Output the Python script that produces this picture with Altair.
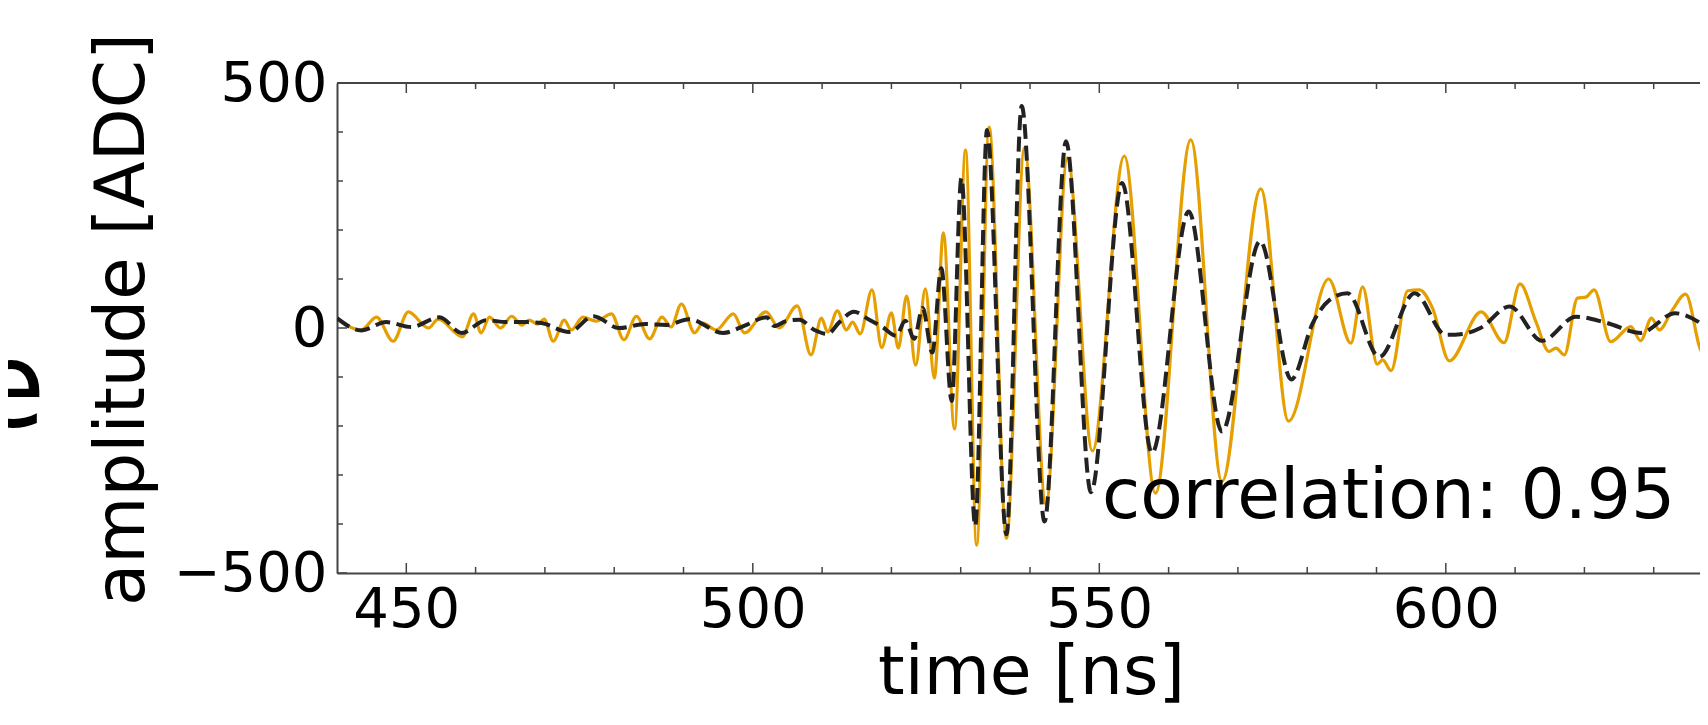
import altair as alt
import pandas as pd

# ---- data ----
meas_t = [440.0, 443.5, 445.7, 448.1, 450.3, 453.2, 454.6, 458.1, 459.7, 460.8,
          462.0, 463.6, 465.2, 466.7, 467.7, 469.0, 469.9, 471.2, 472.8, 473.8,
          475.5, 477.4, 479.6, 481.4, 483.2, 485.1, 486.9, 488.2, 489.7, 491.6,
          492.8, 494.7, 497.2, 498.8, 501.9, 503.8, 506.4, 508.4, 509.9, 510.8,
          512.2, 513.5, 514.4, 515.5, 517.2, 518.6, 520.0, 521.0, 522.2, 523.5,
          524.9, 526.2, 527.5, 529.1, 530.7, 532.3, 534.1, 536.6, 539.2, 542.3,
          545.4, 549.0, 553.6, 558.1, 563.2, 567.7, 573.3, 577.3, 583.1, 586.3,
          588.0, 590.1, 590.9, 592.1, 594.5, 596.2, 598.1, 600.5, 605.1, 608.4,
          610.7, 613.0, 614.9, 615.9, 617.1, 619.0, 620.2, 621.4, 623.8, 626.7,
          628.1, 629.7, 630.8, 632.7, 634.6, 637.1, 637.9]
meas_v = [20, -4, 22, -27, 33, 0, 18, -18, 29, -10,
          22, 0, 24, 6, 16, 8, 18, -27, 16, -4,
          22, 14, 29, -24, 24, -22, 22, 2, 49, -10,
          10, -4, 29, -10, 33, 0, 45, -55, 20, -8,
          35, -4, 12, -12, 78, -40, 31, -41, 65, -76,
          80, -102, 194, -206, 363, -443, 410, -429, 367, -360,
          347, -251, 351, -337, 384, -313, 284, -190, 100, -31,
          84, -74, -65, -87, 76, 78, 40, -67, 33, -30,
          90, 13, -48, -41, -55, 61, 63, 78, -28, 3,
          -26, 20, -4, 37, 69, -51, -40]

sim_t = [440.0, 443.5, 447.1, 450.7, 454.8, 458.0, 461.5, 464.5, 467.5, 469.5,
         473.5, 477.0, 480.7, 484.5, 487.5, 490.8, 495.7, 499.0, 502.0, 503.1,
         504.8, 506.7, 508.9, 510.8, 512.5, 514.6, 516.8, 518.7, 520.7, 522.0,
         523.3, 524.5, 525.9, 527.2, 528.7, 530.1, 532.1, 533.8, 536.6, 538.8,
         542.1, 545.2, 548.8, 553.3, 557.6, 562.9, 567.7, 573.2, 577.7, 580.8,
         583.2, 585.8, 590.4, 595.5, 600.0, 602.5, 605.0, 609.2, 613.9, 618.8,
         623.1, 628.1, 633.1, 637.9]
sim_v = [20, -5, 12, 2, 22, -10, 16, 12, 12, 10,
         -8, 24, 0, 8, 6, 18, -10, 6, 22, 4,
         14, 17, -4, -12, 12, 33, 17, 2, -16, 15,
         -22, 41, -50, 122, -149, 306, -404, 404, -421, 453,
         -395, 381, -335, 296, -255, 238, -211, 177, -105, 10,
         57, 71, -59, 71, -14, -12, 0, 44, -26, 23,
         11, -10, 30, -1]

x_major = [450, 500, 550, 600]
x_minor = [460, 470, 480, 490, 510, 520, 530, 540, 560, 570, 580, 590, 610, 620, 630]
y_major = [-500, 0, 500]
y_minor = [-400, -300, -200, -100, 100, 200, 300, 400]
x_domain = [440, 636.68]
y_domain = [-500, 500]
annotation = ["correlation: 0.95"]
stray_text = ["e"]

# ---- layout ----
W, H = 1363, 490
FONT = "DejaVu Sans"
AXC = "#444444"

xs = alt.Scale(domain=x_domain, nice=False, zero=False)
ys = alt.Scale(domain=y_domain, nice=False, zero=False)

meas = pd.DataFrame({"t": meas_t, "v": meas_v})
sim = pd.DataFrame({"t": sim_t, "v": sim_v})

x_axis = alt.Axis(values=x_major, format="d", title="time [ns]", grid=False,
                  ticks=False, tickSize=0, labelPadding=9, labelFlush=False,
                  labelFont=FONT, labelFontSize=56, labelColor="black",
                  titleFont=FONT, titleFontSize=68, titleFontWeight="normal",
                  titleColor="black", titleX=694, titleY=120,
                  titleAlign="center", titleBaseline="alphabetic",
                  domainColor=AXC, domainWidth=2)
y_axis = alt.Axis(values=y_major, format="d", title="amplitude [ADC]", grid=False,
                  ticks=False, tickSize=0, labelPadding=10, labelFlush=False,
                  labelFont=FONT, labelFontSize=56, labelColor="black",
                  titleFont=FONT, titleFontSize=69, titleFontWeight="normal",
                  titleColor="black", titleX=-194, titleY=236, titleAngle=270,
                  titleAlign="center", titleBaseline="alphabetic",
                  domainColor=AXC, domainWidth=2)

X = alt.X("t:Q", scale=xs, axis=x_axis)
Y = alt.Y("v:Q", scale=ys, axis=y_axis)

measured = alt.Chart(meas).mark_line(
    color="#E69F00", strokeWidth=3.2, interpolate="monotone", clip=True
).encode(x=X, y=Y)

simulated = alt.Chart(sim).mark_line(
    color="#222222", strokeWidth=4, strokeDash=[15, 6.5],
    interpolate="monotone", clip=True
).encode(x=X, y=Y)

def xticks(vals, length):
    df = pd.DataFrame({"t": vals})
    base = alt.Chart(df).mark_rule(color=AXC, strokeWidth=1.5)
    bottom = base.encode(x=X, y=alt.value(H), y2=alt.value(H - length))
    top = base.encode(x=X, y=alt.value(0), y2=alt.value(length))
    return [bottom, top]

def yticks(vals, length):
    df = pd.DataFrame({"v": vals})
    return [alt.Chart(df).mark_rule(color=AXC, strokeWidth=1.5).encode(
        y=Y, x=alt.value(0), x2=alt.value(length))]

top_border = alt.Chart(pd.DataFrame({"v": [500]})).mark_rule(
    color=AXC, strokeWidth=2
).encode(y=Y, x=alt.value(0), x2=alt.value(W))

corr_text = alt.Chart(pd.DataFrame({"label": annotation})).mark_text(
    font=FONT, fontSize=69.5, align="left", baseline="alphabetic", color="black"
).encode(text="label:N", x=alt.value(765), y=alt.value(435))

stray = alt.Chart(pd.DataFrame({"label": stray_text})).mark_text(
    font=FONT, fontSize=118, align="left",
    baseline="alphabetic", color="black"
).encode(text="label:N", x=alt.value(-364), y=alt.value(343))

layers = [measured, simulated] + xticks(x_major, 10) + xticks(x_minor, 6) \
    + yticks(y_major, 10) + yticks(y_minor, 6) + [top_border, corr_text, stray]

chart = alt.layer(*layers).properties(
    width=W, height=H,
    autosize=alt.AutoSizeParams(type="none"),
    padding={"left": 329, "top": 75, "right": 0, "bottom": 138},
).configure_view(stroke=None).configure(background="white")

chart.save("out.html", embed_options={"renderer": "svg", "actions": False})
